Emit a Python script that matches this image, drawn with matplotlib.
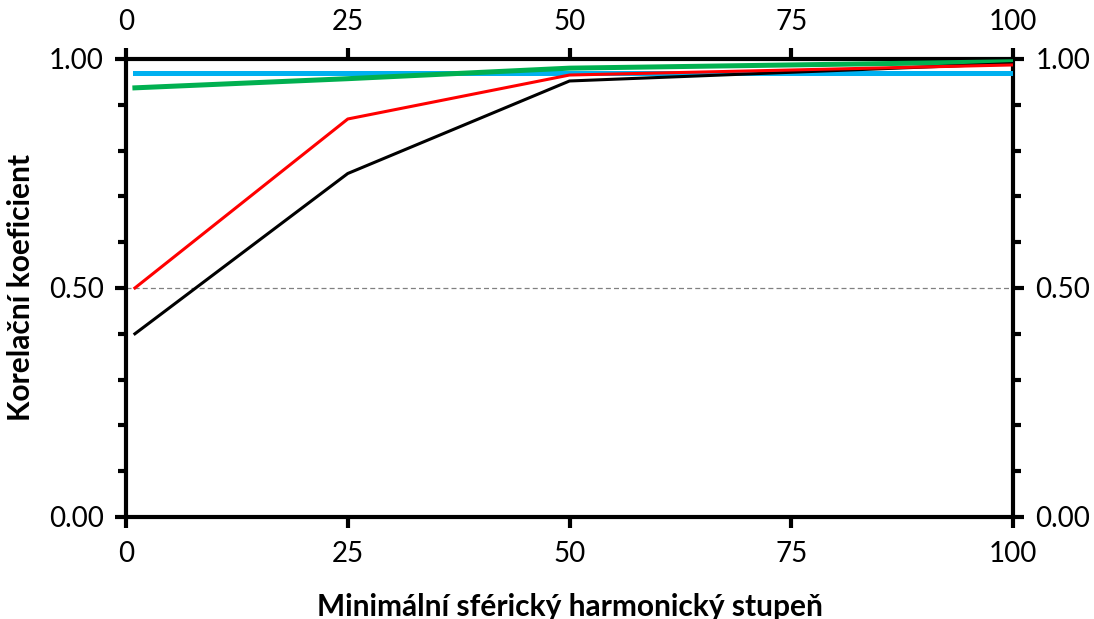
import matplotlib
matplotlib.use("Agg")
import matplotlib.pyplot as plt
from matplotlib.ticker import MultipleLocator

plt.rcParams["font.family"] = ["Lato", "DejaVu Sans"]

# minimal spherical harmonic degree
degree = [1, 25, 50, 100]
black_vals = [0.40, 0.75, 0.952, 0.990]
red_vals = [0.50, 0.869, 0.965, 0.987]
green_vals = [0.937, 0.957, 0.980, 0.994]
cyan_vals = [0.969, 0.969, 0.969, 0.969]

x_ticks = [0, 25, 50, 75, 100]
y_labels = [0.0, 0.5, 1.0]

fig = plt.figure(figsize=(10.94, 6.19), dpi=100)
ax = fig.add_axes([0.1152, 0.1648, 0.8108, 0.7399])

ax.axhline(0.5, color="#808080", lw=0.9, ls=(0, (4, 2.5)), zorder=1)
ax.plot(degree, cyan_vals, color="#00b0f0", lw=3.6, zorder=3)
ax.plot(degree, green_vals, color="#00b050", lw=3.6, zorder=4)
ax.plot(degree, black_vals, color="black", lw=2.2, zorder=5)
ax.plot(degree, red_vals, color="#ff0000", lw=2.2, zorder=6)

ax.set_xlim(0, 100)
ax.set_ylim(0, 1)
ax.set_xticks(x_ticks)
ax.set_yticks(y_labels)
ax.set_yticklabels([f"{v:.2f}" for v in y_labels])
ax.yaxis.set_minor_locator(MultipleLocator(0.1))

for s in ax.spines.values():
    s.set_linewidth(3)
    s.set_color("black")

ax.tick_params(which="both", direction="out", width=3, color="black",
               top=True, right=True, labeltop=True, labelright=True,
               labelsize=20)
ax.tick_params(which="major", length=8)
ax.tick_params(which="minor", length=6)
ax.tick_params(axis="x", which="major", pad=9)
ax.tick_params(axis="y", which="major", pad=8)

ax.set_xlabel("Minimální sférický harmonický stupeň", fontsize=21.5,
              fontweight="bold", labelpad=19)
ax.set_ylabel("Korelační koeficient", fontsize=21.5, fontweight="bold",
              labelpad=10)

fig.savefig("out.png", dpi=100)
